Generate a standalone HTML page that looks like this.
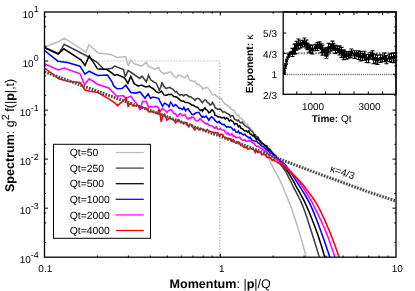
<!DOCTYPE html><html><head><meta charset="utf-8"><style>html,body{margin:0;padding:0;background:#fff;overflow:hidden}body{width:415px;height:291px;position:relative}</style></head><body><svg width="415" height="291" viewBox="0 0 415 291" style="position:absolute;left:0;top:0;font-family:'Liberation Sans',sans-serif;will-change:transform;text-rendering:geometricPrecision">
<rect width="415" height="291" fill="#fff"/>
<path d="M44.5,61 H219.7 V257.2" fill="none" stroke="#b0b0b0" stroke-width="1.2" stroke-dasharray="1.2,1.8"/>
<path d="M44.5,47.0 L58.0,42.0 L64.2,38.2 L81.0,48.8 L86.0,52.0 L89.0,44.5 L98.0,53.0 L107.0,54.0 L112.0,54.9 L117.0,57.4 L125.8,56.5 L128.2,66.1 L130.8,59.9 L133.9,63.6 L141.4,66.1 L146.4,62.4 L148.2,66.1 L150.0,67.0 L151.4,67.7 L152.8,68.3 L154.5,69.3 L155.6,69.1 L157.0,67.9 L158.9,67.7 L159.8,70.3 L161.4,72.2 L162.6,72.4 L163.9,74.0 L165.4,73.1 L166.8,73.5 L168.2,72.4 L170.0,72.1 L171.0,72.2 L172.4,74.5 L173.8,76.2 L175.2,76.8 L176.0,77.7 L176.6,77.5 L178.0,75.3 L180.0,75.2 L180.8,75.8 L182.2,76.3 L183.8,77.6 L185.0,77.8 L186.4,75.8 L187.5,75.2 L189.2,79.2 L190.0,80.2 L190.6,81.0 L192.0,80.3 L193.4,81.5 L195.0,81.2 L196.2,83.4 L197.6,84.6 L199.0,84.4 L200.4,85.9 L201.8,87.5 L202.5,89.1 L203.2,88.4 L204.6,88.5 L206.0,87.5 L207.5,87.5 L208.8,89.1 L210.2,91.0 L211.6,93.4 L212.5,94.6 L214.4,95.0 L215.0,94.5 L216.3,96.1 L217.6,96.9 L218.9,98.3 L220.2,98.6 L221.5,98.4 L222.8,101.4 L224.1,103.0 L225.4,104.2 L226.7,104.6 L228.0,106.3 L229.3,106.2 L230.6,109.0 L231.9,109.5 L233.2,109.9 L234.5,110.5 L235.8,113.9 L237.1,115.7 L238.4,114.8 L239.7,118.1 L241.0,118.5 L242.3,119.2 L243.6,120.8 L244.9,123.3 L246.2,124.8 L247.5,124.1 L248.8,127.1 L250.1,127.3 L251.4,130.7 L252.7,131.4 L254.0,134.4 L255.3,136.2 L256.6,136.7 L257.9,139.7 L259.2,140.1 L260.5,141.7 L261.8,145.2 L263.1,146.3 L264.4,149.1 L265.7,152.1 L267.0,155.3 L268.3,157.1 L269.6,159.6 L270.9,163.5 L272.2,165.1 L273.5,168.5 L274.8,170.9 L276.1,172.7 L277.4,175.3 L278.7,177.9 L280.0,180.7 L281.3,183.5 L282.6,186.4 L283.9,189.5 L285.2,192.8 L286.5,195.7 L287.8,198.9 L289.1,202.4 L290.4,205.5 L291.7,209.1 L293.0,213.1 L294.3,216.8 L295.6,220.8 L296.9,224.7 L298.2,229.0 L299.5,233.4 L300.0,234.9 L303.0,245.3 L306.0,256.1 L306.2,256.9" fill="none" stroke="#bdbdbd" stroke-width="1.55" stroke-linejoin="miter" stroke-miterlimit="3"/>
<path d="M44.5,47.5 L58.8,53.8 L64.2,44.2 L85.0,55.0 L97.5,62.5 L103.8,69.5 L112.0,68.2 L114.5,66.1 L123.5,69.6 L125.3,76.8 L128.2,70.5 L139.8,78.4 L142.0,76.2 L146.4,81.8 L148.6,75.2 L150.0,78.3 L150.8,80.0 L151.4,80.4 L152.8,81.1 L154.2,82.1 L155.8,82.9 L157.0,84.9 L158.4,87.9 L159.2,90.7 L161.2,85.8 L162.0,82.3 L162.6,83.6 L163.9,86.3 L166.0,88.6 L166.8,88.2 L168.2,87.7 L170.0,87.4 L171.0,88.4 L172.4,88.9 L173.8,90.1 L175.2,92.0 L176.6,91.5 L178.0,93.6 L180.0,95.2 L180.8,94.7 L182.2,94.6 L183.6,95.9 L185.0,94.8 L186.4,94.8 L187.5,95.4 L189.2,96.9 L190.6,96.5 L192.0,97.8 L193.4,98.7 L195.0,100.3 L196.2,98.9 L197.5,98.3 L199.0,98.7 L200.4,100.3 L201.8,102.2 L202.5,102.8 L203.2,101.7 L205.0,99.8 L206.0,100.2 L207.4,102.5 L208.8,103.2 L210.0,105.2 L211.6,104.1 L212.5,102.3 L214.4,105.5 L215.0,107.8 L216.3,108.2 L217.6,109.4 L218.9,109.0 L220.2,109.2 L221.5,110.3 L222.8,112.3 L224.1,111.6 L225.4,112.4 L226.7,113.3 L228.0,113.9 L229.3,114.6 L230.6,116.7 L231.9,115.5 L233.2,115.9 L234.5,119.1 L235.8,119.7 L237.1,120.7 L238.4,120.1 L239.7,122.2 L241.0,123.0 L242.3,122.1 L243.6,124.4 L244.9,125.7 L246.2,126.4 L247.5,127.2 L248.8,128.0 L250.1,129.7 L251.4,130.8 L252.7,131.7 L254.0,134.3 L255.3,134.8 L256.6,137.4 L257.9,136.8 L259.2,140.1 L260.5,140.8 L261.8,142.6 L263.1,143.8 L264.4,145.1 L265.7,145.6 L267.0,145.8 L268.3,148.6 L269.6,148.9 L270.9,150.7 L272.2,152.9 L273.5,154.3 L274.8,155.8 L276.1,158.2 L277.4,159.5 L278.7,161.0 L280.0,162.7 L281.3,165.3 L282.6,166.9 L283.9,169.2 L285.2,170.9 L286.5,173.0 L287.8,175.6 L289.1,178.3 L290.4,180.5 L291.7,183.5 L293.0,186.2 L294.3,188.6 L295.6,191.1 L296.9,193.3 L298.2,196.0 L299.5,198.8 L300.0,199.6 L303.0,206.6 L306.0,214.7 L309.0,223.9 L312.0,233.4 L315.0,243.0 L318.0,252.9 L319.2,256.9" fill="none" stroke="#404040" stroke-width="1.55" stroke-linejoin="miter" stroke-miterlimit="3"/>
<path d="M44.5,47.5 L58.0,54.0 L63.8,48.8 L81.2,60.0 L85.0,65.5 L89.2,55.8 L97.5,68.8 L107.0,69.5 L112.0,73.1 L114.5,75.3 L117.3,74.6 L124.5,77.8 L127.9,83.4 L130.8,76.5 L134.2,83.7 L138.2,86.2 L141.4,85.0 L145.8,86.9 L149.5,86.2 L150.0,86.6 L151.4,87.6 L152.8,88.5 L154.5,89.8 L155.6,91.3 L157.0,92.3 L158.9,92.8 L159.8,92.4 L161.4,91.1 L162.6,92.7 L163.9,94.9 L165.4,95.3 L166.8,95.2 L167.5,94.9 L168.2,94.3 L169.6,94.4 L171.2,94.2 L172.4,95.3 L173.8,96.6 L175.2,96.7 L176.6,97.0 L178.0,98.1 L180.0,99.9 L180.8,100.5 L182.2,101.3 L183.6,101.0 L185.0,102.3 L186.4,102.4 L187.5,102.4 L189.2,103.1 L190.6,104.0 L192.0,105.2 L193.4,105.3 L195.0,106.4 L196.2,107.0 L197.6,107.5 L199.0,109.0 L200.4,110.3 L201.8,109.9 L202.5,111.2 L203.2,110.0 L205.0,107.8 L206.0,109.7 L207.4,110.4 L208.8,112.8 L210.2,112.1 L211.6,110.1 L212.5,110.0 L214.4,112.6 L215.0,115.3 L216.3,115.5 L217.6,116.6 L218.9,116.9 L220.2,117.1 L221.5,117.8 L222.8,117.9 L224.1,117.2 L225.4,118.9 L226.7,117.9 L228.0,118.8 L229.3,121.1 L230.6,120.0 L231.9,120.9 L233.2,121.7 L234.5,124.6 L235.8,123.5 L237.1,123.9 L238.4,126.8 L239.7,125.7 L241.0,128.4 L242.3,128.7 L243.6,129.9 L244.9,131.0 L246.2,130.8 L247.5,132.2 L248.8,131.1 L250.1,134.0 L251.4,134.4 L252.7,135.9 L254.0,135.3 L255.3,138.0 L256.6,139.5 L257.9,138.5 L259.2,140.3 L260.5,142.0 L261.8,143.8 L263.1,143.7 L264.4,144.8 L265.7,146.1 L267.0,147.9 L268.3,149.3 L269.6,149.9 L270.9,151.1 L272.2,152.5 L273.5,153.7 L274.8,155.2 L276.1,156.2 L277.4,158.2 L278.7,160.3 L280.0,161.1 L281.3,163.1 L282.6,164.1 L283.9,166.4 L285.2,168.2 L286.5,169.9 L287.8,171.7 L289.1,173.7 L290.4,175.9 L291.7,178.2 L293.0,180.3 L294.3,182.6 L295.6,185.3 L296.9,187.7 L298.2,189.9 L299.5,192.2 L300.0,193.2 L303.0,198.7 L306.0,204.9 L309.0,211.8 L312.0,219.2 L315.0,226.9 L318.0,235.2 L321.0,244.5 L324.0,254.5 L324.8,256.9" fill="none" stroke="#000" stroke-width="1.55" stroke-linejoin="miter" stroke-miterlimit="3"/>
<path d="M44.5,50.5 L58.0,61.2 L67.5,62.5 L80.0,66.2 L85.0,74.2 L89.2,71.2 L97.5,75.5 L107.5,75.0 L112.0,81.9 L113.9,86.2 L117.0,88.8 L122.0,88.5 L125.8,85.2 L130.8,92.5 L135.8,93.1 L140.0,92.0 L145.0,98.2 L148.1,93.9 L150.6,98.3 L151.4,97.8 L153.1,97.1 L154.2,97.4 L155.6,97.6 L157.0,97.9 L158.8,98.6 L159.8,101.0 L161.2,103.6 L162.5,106.1 L164.4,103.1 L165.4,103.4 L166.9,104.7 L168.2,105.3 L169.0,107.4 L169.6,105.1 L170.6,102.1 L172.4,104.6 L173.1,106.0 L173.8,106.1 L175.6,104.5 L176.6,105.5 L178.1,107.2 L179.4,108.4 L180.6,108.2 L182.5,109.7 L183.8,107.4 L185.6,110.7 L186.4,109.6 L188.1,108.7 L189.2,110.8 L190.6,112.6 L191.9,114.3 L193.4,114.6 L195.0,113.5 L196.2,112.7 L197.6,112.4 L198.8,112.3 L200.4,114.9 L201.8,116.9 L202.5,117.3 L203.2,116.4 L204.6,117.3 L206.2,116.1 L207.4,117.8 L208.8,120.2 L210.2,118.0 L211.6,116.9 L212.5,117.3 L214.4,119.5 L215.0,120.4 L216.3,121.7 L217.6,122.6 L218.9,121.6 L220.2,123.0 L221.5,123.9 L222.8,124.6 L224.1,124.4 L225.4,125.9 L226.7,127.3 L228.0,126.4 L229.3,127.4 L230.6,127.1 L231.9,128.3 L233.2,130.1 L234.5,129.4 L235.8,132.0 L237.1,132.6 L238.4,130.9 L239.7,133.6 L241.0,132.7 L242.3,134.3 L243.6,134.8 L244.9,134.2 L246.2,135.9 L247.5,136.6 L248.8,137.8 L250.1,137.3 L251.4,139.4 L252.7,140.7 L254.0,140.7 L255.3,141.2 L256.6,141.0 L257.9,142.8 L259.2,143.4 L260.5,145.2 L261.8,146.1 L263.1,146.8 L264.4,147.1 L265.7,149.1 L267.0,150.1 L268.3,150.4 L269.6,152.7 L270.9,153.2 L272.2,153.3 L273.5,155.5 L274.8,155.3 L276.1,156.7 L277.4,158.2 L278.7,159.2 L280.0,160.2 L281.3,161.5 L282.6,162.5 L283.9,163.6 L285.2,164.8 L286.5,166.2 L287.8,168.3 L289.1,170.1 L290.4,171.9 L291.7,173.9 L293.0,175.8 L294.3,177.8 L295.6,179.9 L296.9,182.2 L298.2,184.0 L299.5,186.2 L300.0,186.9 L303.0,191.7 L306.0,196.5 L309.0,201.9 L312.0,208.4 L315.0,215.6 L318.0,223.5 L321.0,231.6 L324.0,240.1 L327.0,248.7 L329.8,256.9" fill="none" stroke="#0000ff" stroke-width="1.55" stroke-linejoin="miter" stroke-miterlimit="3"/>
<path d="M44.5,63.8 L58.0,70.0 L64.2,68.0 L80.0,73.8 L84.5,84.5 L89.2,78.8 L98.0,84.5 L108.8,88.0 L112.0,91.2 L117.0,96.2 L123.2,95.6 L125.8,98.1 L130.8,96.2 L133.9,100.6 L138.2,105.6 L140.0,110.1 L142.5,101.4 L146.2,101.4 L148.8,107.6 L150.0,107.0 L151.2,106.4 L152.8,106.7 L154.2,106.9 L155.6,106.4 L157.5,106.8 L158.4,108.2 L160.0,111.0 L161.2,110.3 L162.5,108.5 L164.0,109.9 L165.4,110.3 L166.9,112.5 L168.2,110.8 L169.6,110.4 L170.6,109.6 L172.4,111.1 L173.1,112.4 L173.8,113.6 L175.6,113.5 L176.6,115.9 L177.5,116.7 L180.0,113.6 L180.8,113.8 L182.5,115.8 L183.6,115.4 L185.0,114.6 L186.4,117.6 L188.1,119.1 L189.2,117.9 L190.6,118.5 L191.9,117.0 L193.8,117.6 L194.8,119.6 L196.2,120.8 L197.6,121.0 L199.0,119.8 L200.0,118.7 L201.8,120.5 L203.2,121.7 L205.0,123.2 L206.0,124.0 L207.4,123.4 L208.8,125.0 L210.0,125.6 L211.6,125.9 L213.0,126.7 L214.4,128.0 L215.0,128.3 L216.3,126.8 L217.6,129.2 L218.9,129.4 L220.2,128.4 L221.5,129.9 L222.8,130.1 L224.1,130.3 L225.4,132.2 L226.7,133.9 L228.0,132.8 L229.3,134.9 L230.6,134.9 L231.9,133.8 L233.2,136.3 L234.5,136.0 L235.8,137.4 L237.1,137.2 L238.4,137.7 L239.7,137.2 L241.0,139.0 L242.3,140.0 L243.6,140.4 L244.9,139.8 L246.2,141.3 L247.5,141.2 L248.8,140.7 L250.1,141.2 L251.4,141.9 L252.7,142.9 L254.0,143.5 L255.3,145.1 L256.6,146.3 L257.9,146.6 L259.2,147.1 L260.5,148.5 L261.8,148.6 L263.1,149.8 L264.4,151.3 L265.7,151.5 L267.0,151.9 L268.3,154.3 L269.6,154.9 L270.9,155.2 L272.2,156.2 L273.5,157.5 L274.8,158.7 L276.1,159.1 L277.4,159.7 L278.7,160.9 L280.0,162.6 L281.3,162.7 L282.6,164.0 L283.9,164.8 L285.2,166.0 L286.5,167.1 L287.8,168.6 L289.1,169.7 L290.4,171.0 L291.7,172.5 L293.0,174.0 L294.3,175.7 L295.6,177.1 L296.9,178.8 L298.2,180.7 L299.5,182.5 L300.0,183.3 L303.0,187.4 L306.0,192.0 L309.0,196.8 L312.0,202.0 L315.0,208.3 L318.0,214.3 L321.0,220.6 L324.0,227.3 L327.0,234.4 L330.0,242.6 L333.0,251.5 L334.8,256.9" fill="none" stroke="#ff00ff" stroke-width="1.55" stroke-linejoin="miter" stroke-miterlimit="3"/>
<path d="M44.5,68.0 L58.8,78.8 L67.5,81.2 L80.0,82.5 L85.0,90.0 L90.0,91.2 L98.0,92.5 L108.8,98.8 L114.4,102.5 L117.5,105.6 L126.2,98.1 L128.1,106.2 L130.6,103.1 L133.1,106.2 L137.5,105.0 L140.0,107.0 L146.2,108.2 L148.8,112.0 L150.0,111.8 L151.4,111.7 L152.5,111.3 L154.2,112.4 L155.6,112.5 L157.5,113.6 L158.4,111.0 L159.4,109.3 L161.2,121.8 L163.1,114.8 L164.4,114.0 L165.4,116.2 L166.9,120.3 L168.2,119.3 L169.4,117.5 L171.0,118.9 L171.9,119.0 L173.8,120.1 L175.6,122.8 L176.6,121.4 L178.0,119.6 L178.8,119.6 L179.4,121.0 L180.8,122.6 L182.5,122.3 L183.6,123.9 L185.0,122.5 L186.9,122.9 L187.8,125.6 L188.8,126.8 L190.6,124.4 L191.9,124.9 L193.8,128.9 L194.8,130.0 L196.2,127.7 L197.6,128.3 L199.0,129.9 L200.0,128.6 L201.8,129.1 L203.2,129.2 L204.6,130.4 L206.0,131.4 L207.4,129.6 L208.8,131.4 L210.0,131.2 L211.6,132.5 L213.0,132.2 L214.4,133.7 L215.0,132.3 L216.3,132.9 L217.6,132.8 L218.9,135.1 L220.2,134.6 L221.5,134.4 L222.8,134.7 L224.1,137.2 L225.4,137.5 L226.7,138.6 L228.0,138.2 L229.3,139.2 L230.6,138.8 L231.9,141.3 L233.2,139.5 L234.5,141.5 L235.8,143.0 L237.1,143.2 L238.4,141.8 L239.7,142.9 L241.0,145.6 L242.3,145.6 L243.6,147.1 L244.9,147.7 L246.2,146.9 L247.5,148.9 L248.8,148.9 L250.1,148.1 L251.4,148.9 L252.7,148.4 L254.0,150.1 L255.3,152.6 L256.6,150.4 L257.9,152.6 L259.2,151.8 L260.5,152.4 L261.8,154.7 L263.1,154.2 L264.4,154.4 L265.7,155.4 L267.0,157.3 L268.3,157.9 L269.6,157.2 L270.9,158.3 L272.2,160.5 L273.5,159.6 L274.8,160.9 L276.1,161.3 L277.4,162.6 L278.7,163.0 L280.0,164.0 L281.3,164.5 L282.6,165.1 L283.9,166.2 L285.2,167.2 L286.5,169.1 L287.8,169.6 L289.1,170.6 L290.4,172.5 L291.7,173.1 L293.0,174.7 L294.3,175.5 L295.6,176.9 L296.9,178.0 L298.2,179.6 L299.5,180.8 L300.0,181.3 L303.0,184.7 L306.0,188.7 L309.0,192.6 L312.0,196.7 L315.0,201.0 L318.0,206.0 L321.0,212.1 L324.0,218.4 L327.0,225.4 L330.0,232.4 L333.0,240.2 L336.0,248.3 L339.0,257.1" fill="none" stroke="#ff0000" stroke-width="1.55" stroke-linejoin="miter" stroke-miterlimit="3"/>
<path d="M44.5,71.8 L232,140.6 L280,159.2 L310,170.6 L346,183.7 L370,192.5 L396,201.1" fill="none" stroke="#505050" stroke-width="3" stroke-dasharray="1.8,1.15"/>
<text transform="translate(329.5,171.5) rotate(18.5)" font-size="10.2" fill="#000">κ=4/3</text>
<rect x="44.5" y="12.0" width="351.5" height="245.2" fill="none" stroke="#000" stroke-width="1.3"/>
<path d="M97.41,257.2 v-1.7 M97.41,12.0 v1.7 M128.35,257.2 v-1.7 M128.35,12.0 v1.7 M150.31,257.2 v-1.7 M150.31,12.0 v1.7 M167.34,257.2 v-1.7 M167.34,12.0 v1.7 M181.26,257.2 v-1.7 M181.26,12.0 v1.7 M193.03,257.2 v-1.7 M193.03,12.0 v1.7 M203.22,257.2 v-1.7 M203.22,12.0 v1.7 M212.21,257.2 v-1.7 M212.21,12.0 v1.7 M220.25,257.2 v-3.5 M220.25,12.0 v3.5 M273.16,257.2 v-1.7 M273.16,12.0 v1.7 M304.10,257.2 v-1.7 M304.10,12.0 v1.7 M326.06,257.2 v-1.7 M326.06,12.0 v1.7 M343.09,257.2 v-1.7 M343.09,12.0 v1.7 M357.01,257.2 v-1.7 M357.01,12.0 v1.7 M368.78,257.2 v-1.7 M368.78,12.0 v1.7 M378.97,257.2 v-1.7 M378.97,12.0 v1.7 M387.96,257.2 v-1.7 M387.96,12.0 v1.7 M44.5,242.44 h1.7 M396.0,242.44 h-1.7 M44.5,222.92 h1.7 M396.0,222.92 h-1.7 M44.5,212.91 h1.7 M396.0,212.91 h-1.7 M44.5,208.16 h3.5 M396.0,208.16 h-3.5 M44.5,193.40 h1.7 M396.0,193.40 h-1.7 M44.5,173.88 h1.7 M396.0,173.88 h-1.7 M44.5,163.87 h1.7 M396.0,163.87 h-1.7 M44.5,159.12 h3.5 M396.0,159.12 h-3.5 M44.5,144.36 h1.7 M396.0,144.36 h-1.7 M44.5,124.84 h1.7 M396.0,124.84 h-1.7 M44.5,114.83 h1.7 M396.0,114.83 h-1.7 M44.5,110.08 h3.5 M396.0,110.08 h-3.5 M44.5,95.32 h1.7 M396.0,95.32 h-1.7 M44.5,75.80 h1.7 M396.0,75.80 h-1.7 M44.5,65.79 h1.7 M396.0,65.79 h-1.7 M44.5,61.04 h3.5 M396.0,61.04 h-3.5 M44.5,46.28 h1.7 M396.0,46.28 h-1.7 M44.5,26.76 h1.7 M396.0,26.76 h-1.7 M44.5,16.75 h1.7 M396.0,16.75 h-1.7" stroke="#000" stroke-width="1" fill="none"/>
<text x="38.6" y="17.6" font-size="10" text-anchor="end">10<tspan font-size="8.8" dy="-5.2">1</tspan></text>
<text x="38.6" y="66.6" font-size="10" text-anchor="end">10<tspan font-size="8.8" dy="-5.2">0</tspan></text>
<text x="38.6" y="115.7" font-size="10" text-anchor="end">10<tspan font-size="8.8" dy="-5.2">-1</tspan></text>
<text x="38.6" y="164.7" font-size="10" text-anchor="end">10<tspan font-size="8.8" dy="-5.2">-2</tspan></text>
<text x="38.6" y="213.8" font-size="10" text-anchor="end">10<tspan font-size="8.8" dy="-5.2">-3</tspan></text>
<text x="38.6" y="262.8" font-size="10" text-anchor="end">10<tspan font-size="8.8" dy="-5.2">-4</tspan></text>
<text x="45.3" y="271.7" font-size="10" text-anchor="middle">0.1</text>
<text x="221.7" y="271.7" font-size="10" text-anchor="middle">1</text>
<text x="397.2" y="271.7" font-size="10" text-anchor="middle">10</text>
<text x="220.2" y="287.9" font-size="12.55" text-anchor="middle"><tspan font-weight="bold">Momentum</tspan>: |<tspan font-weight="bold">p</tspan>|/Q</text>
<text transform="translate(13.6,192.0) rotate(-90)" font-size="12.55"><tspan font-weight="bold">Spectrum</tspan>: g<tspan font-size="10.5" dy="-5">2</tspan><tspan dy="5" dx="2.6">f(|</tspan><tspan font-weight="bold">p</tspan>|,t)</text>
<rect x="53.5" y="144.3" width="97" height="94" fill="#fff" stroke="#000" stroke-width="1"/>
<text x="69.7" y="156.2" font-size="10.4">Qt=50</text>
<path d="M115.7,152.5 H143.8" stroke="#bdbdbd" stroke-width="1.25"/>
<text x="69.7" y="171.8" font-size="10.4">Qt=250</text>
<path d="M115.7,168.1 H143.8" stroke="#404040" stroke-width="1.25"/>
<text x="69.7" y="187.4" font-size="10.4">Qt=500</text>
<path d="M115.7,183.7 H143.8" stroke="#000" stroke-width="1.25"/>
<text x="69.7" y="203.0" font-size="10.4">Qt=1000</text>
<path d="M115.7,199.3 H143.8" stroke="#0000ff" stroke-width="1.25"/>
<text x="69.7" y="218.6" font-size="10.4">Qt=2000</text>
<path d="M115.7,214.9 H143.8" stroke="#ff00ff" stroke-width="1.25"/>
<text x="69.7" y="234.2" font-size="10.4">Qt=4000</text>
<path d="M115.7,230.5 H143.8" stroke="#ff0000" stroke-width="1.25"/>
<path d="M283.2,53.3 H396.0" stroke="#777" stroke-width="2" stroke-dasharray="1.7,1.2"/>
<path d="M283.2,74.5 H396.0" stroke="#4a4a4a" stroke-width="1.3" stroke-dasharray="0.8,1.1"/>
<path d="M284.5,72.3 V74.4 M283.0,72.3 h3.0 M283.0,74.4 h3.0 M284.5,70.6 V72.3 M283.0,70.6 h3.0 M283.0,72.3 h3.0 M284.5,67.9 V70.7 M283.0,67.9 h3.0 M283.0,70.7 h3.0 M285.5,65.6 V68.3 M284.0,65.6 h3.0 M284.0,68.3 h3.0 M285.5,63.9 V65.8 M284.0,63.9 h3.0 M284.0,65.8 h3.0 M286.5,60.9 V64.1 M285.0,60.9 h3.0 M285.0,64.1 h3.0 M286.5,59.2 V61.5 M285.0,59.2 h3.0 M285.0,61.5 h3.0 M287.5,57.0 V59.0 M286.0,57.0 h3.0 M286.0,59.0 h3.0 M288.5,54.4 V57.5 M287.0,54.4 h3.0 M287.0,57.5 h3.0 M289.5,53.0 V56.0 M288.0,53.0 h3.0 M288.0,56.0 h3.0 M290.5,51.7 V54.2 M289.0,51.7 h3.0 M289.0,54.2 h3.0 M292.5,48.4 V56.5 M290.5,48.4 h4.0 M290.5,56.5 h4.0 M294.5,44.3 V54.1 M292.5,44.3 h4.0 M292.5,54.1 h4.0 M295.5,43.8 V53.6 M293.5,43.8 h4.0 M293.5,53.6 h4.0 M296.5,41.2 V50.3 M294.5,41.2 h4.0 M294.5,50.3 h4.0 M298.5,39.0 V48.9 M296.5,39.0 h4.0 M296.5,48.9 h4.0 M300.5,40.8 V48.0 M298.5,40.8 h4.0 M298.5,48.0 h4.0 M302.5,40.3 V47.0 M300.5,40.3 h4.0 M300.5,47.0 h4.0 M304.5,38.0 V46.8 M302.5,38.0 h4.0 M302.5,46.8 h4.0 M306.5,40.0 V48.1 M304.5,40.0 h4.0 M304.5,48.1 h4.0 M307.5,43.4 V49.6 M305.5,43.4 h4.0 M305.5,49.6 h4.0 M309.5,44.9 V52.0 M307.5,44.9 h4.0 M307.5,52.0 h4.0 M310.5,45.5 V52.9 M308.5,45.5 h4.0 M308.5,52.9 h4.0 M312.5,45.0 V54.0 M310.5,45.0 h4.0 M310.5,54.0 h4.0 M315.5,44.3 V50.7 M313.5,44.3 h4.0 M313.5,50.7 h4.0 M317.5,42.8 V50.5 M315.5,42.8 h4.0 M315.5,50.5 h4.0 M319.5,41.9 V48.5 M317.5,41.9 h4.0 M317.5,48.5 h4.0 M321.5,43.8 V52.6 M319.5,43.8 h4.0 M319.5,52.6 h4.0 M322.5,45.2 V55.1 M320.5,45.2 h4.0 M320.5,55.1 h4.0 M324.5,47.8 V55.2 M322.5,47.8 h4.0 M322.5,55.2 h4.0 M325.5,48.0 V55.2 M323.5,48.0 h4.0 M323.5,55.2 h4.0 M326.5,50.2 V58.3 M324.5,50.2 h4.0 M324.5,58.3 h4.0 M326.5,48.7 V56.1 M324.5,48.7 h4.0 M324.5,56.1 h4.0 M327.5,47.5 V54.7 M325.5,47.5 h4.0 M325.5,54.7 h4.0 M328.5,43.3 V52.9 M326.5,43.3 h4.0 M326.5,52.9 h4.0 M330.5,44.1 V51.3 M328.5,44.1 h4.0 M328.5,51.3 h4.0 M332.5,41.1 V50.3 M330.5,41.1 h4.0 M330.5,50.3 h4.0 M333.5,43.2 V49.7 M331.5,43.2 h4.0 M331.5,49.7 h4.0 M335.5,45.2 V53.4 M333.5,45.2 h4.0 M333.5,53.4 h4.0 M337.5,46.3 V52.5 M335.5,46.3 h4.0 M335.5,52.5 h4.0 M339.5,45.9 V55.0 M337.5,45.9 h4.0 M337.5,55.0 h4.0 M341.5,47.4 V57.4 M339.5,47.4 h4.0 M339.5,57.4 h4.0 M343.5,49.9 V59.8 M341.5,49.9 h4.0 M341.5,59.8 h4.0 M344.5,51.0 V57.7 M342.5,51.0 h4.0 M342.5,57.7 h4.0 M346.5,51.6 V59.3 M344.5,51.6 h4.0 M344.5,59.3 h4.0 M348.5,52.0 V58.2 M346.5,52.0 h4.0 M346.5,58.2 h4.0 M350.5,51.2 V57.6 M348.5,51.2 h4.0 M348.5,57.6 h4.0 M351.5,49.0 V56.0 M349.5,49.0 h4.0 M349.5,56.0 h4.0 M354.5,50.8 V58.5 M352.5,50.8 h4.0 M352.5,58.5 h4.0 M356.5,50.8 V57.0 M354.5,50.8 h4.0 M354.5,57.0 h4.0 M358.5,50.9 V59.4 M356.5,50.9 h4.0 M356.5,59.4 h4.0 M360.5,51.4 V61.0 M358.5,51.4 h4.0 M358.5,61.0 h4.0 M362.5,53.4 V60.4 M360.5,53.4 h4.0 M360.5,60.4 h4.0 M364.5,51.2 V60.2 M362.5,51.2 h4.0 M362.5,60.2 h4.0 M366.5,54.5 V62.5 M364.5,54.5 h4.0 M364.5,62.5 h4.0 M368.5,54.5 V62.7 M366.5,54.5 h4.0 M366.5,62.7 h4.0 M370.5,52.2 V58.8 M368.5,52.2 h4.0 M368.5,58.8 h4.0 M372.5,50.7 V59.3 M370.5,50.7 h4.0 M370.5,59.3 h4.0 M373.5,54.1 V63.7 M371.5,54.1 h4.0 M371.5,63.7 h4.0 M375.5,54.3 V63.0 M373.5,54.3 h4.0 M373.5,63.0 h4.0 M377.5,55.2 V64.4 M375.5,55.2 h4.0 M375.5,64.4 h4.0 M380.5,54.9 V62.5 M378.5,54.9 h4.0 M378.5,62.5 h4.0 M382.5,55.0 V61.7 M380.5,55.0 h4.0 M380.5,61.7 h4.0 M384.5,53.0 V61.8 M382.5,53.0 h4.0 M382.5,61.8 h4.0 M386.5,55.6 V63.8 M384.5,55.6 h4.0 M384.5,63.8 h4.0 M389.5,54.2 V61.6 M387.5,54.2 h4.0 M387.5,61.6 h4.0 M391.5,53.3 V62.5 M389.5,53.3 h4.0 M389.5,62.5 h4.0 M393.5,52.7 V62.6 M391.5,52.7 h4.0 M391.5,62.6 h4.0 M395.5,53.0 V60.2 M393.5,53.0 h4.0 M393.5,60.2 h4.0" stroke="#000" stroke-width="1.1" fill="none"/>
<path d="M283.5,72.3 h2.0 v2.0 h-2.0 z M283.5,70.5 h2.0 v2.0 h-2.0 z M283.5,68.3 h2.0 v2.0 h-2.0 z M284.5,65.9 h2.0 v2.0 h-2.0 z M284.5,63.9 h2.0 v2.0 h-2.0 z M285.5,61.5 h2.0 v2.0 h-2.0 z M285.5,59.4 h2.0 v2.0 h-2.0 z M286.5,57.0 h2.0 v2.0 h-2.0 z M287.5,55.0 h2.0 v2.0 h-2.0 z M288.5,53.5 h2.0 v2.0 h-2.0 z M289.5,52.0 h2.0 v2.0 h-2.0 z M290.8,50.7 h3.4 v3.4 h-3.4 z M292.8,47.5 h3.4 v3.4 h-3.4 z M293.8,47.0 h3.4 v3.4 h-3.4 z M294.8,44.0 h3.4 v3.4 h-3.4 z M296.8,42.3 h3.4 v3.4 h-3.4 z M298.8,42.7 h3.4 v3.4 h-3.4 z M300.8,41.9 h3.4 v3.4 h-3.4 z M302.8,40.7 h3.4 v3.4 h-3.4 z M304.8,42.4 h3.4 v3.4 h-3.4 z M305.8,44.8 h3.4 v3.4 h-3.4 z M307.8,46.7 h3.4 v3.4 h-3.4 z M308.8,47.5 h3.4 v3.4 h-3.4 z M310.8,47.8 h3.4 v3.4 h-3.4 z M313.8,45.8 h3.4 v3.4 h-3.4 z M315.8,45.0 h3.4 v3.4 h-3.4 z M317.8,43.5 h3.4 v3.4 h-3.4 z M319.8,46.5 h3.4 v3.4 h-3.4 z M320.8,48.4 h3.4 v3.4 h-3.4 z M322.8,49.8 h3.4 v3.4 h-3.4 z M323.8,49.9 h3.4 v3.4 h-3.4 z M324.8,52.6 h3.4 v3.4 h-3.4 z M324.8,50.7 h3.4 v3.4 h-3.4 z M325.8,49.4 h3.4 v3.4 h-3.4 z M326.8,46.4 h3.4 v3.4 h-3.4 z M328.8,46.0 h3.4 v3.4 h-3.4 z M330.8,44.0 h3.4 v3.4 h-3.4 z M331.8,44.8 h3.4 v3.4 h-3.4 z M333.8,47.6 h3.4 v3.4 h-3.4 z M335.8,47.7 h3.4 v3.4 h-3.4 z M337.8,48.8 h3.4 v3.4 h-3.4 z M339.8,50.7 h3.4 v3.4 h-3.4 z M341.8,53.2 h3.4 v3.4 h-3.4 z M342.8,52.7 h3.4 v3.4 h-3.4 z M344.8,53.7 h3.4 v3.4 h-3.4 z M346.8,53.4 h3.4 v3.4 h-3.4 z M348.8,52.7 h3.4 v3.4 h-3.4 z M349.8,50.8 h3.4 v3.4 h-3.4 z M352.8,52.9 h3.4 v3.4 h-3.4 z M354.8,52.2 h3.4 v3.4 h-3.4 z M356.8,53.4 h3.4 v3.4 h-3.4 z M358.8,54.5 h3.4 v3.4 h-3.4 z M360.8,55.2 h3.4 v3.4 h-3.4 z M362.8,54.0 h3.4 v3.4 h-3.4 z M364.8,56.8 h3.4 v3.4 h-3.4 z M366.8,56.9 h3.4 v3.4 h-3.4 z M368.8,53.8 h3.4 v3.4 h-3.4 z M370.8,53.3 h3.4 v3.4 h-3.4 z M371.8,57.2 h3.4 v3.4 h-3.4 z M373.8,57.0 h3.4 v3.4 h-3.4 z M375.8,58.1 h3.4 v3.4 h-3.4 z M378.8,57.0 h3.4 v3.4 h-3.4 z M380.8,56.7 h3.4 v3.4 h-3.4 z M382.8,55.7 h3.4 v3.4 h-3.4 z M384.8,58.0 h3.4 v3.4 h-3.4 z M387.8,56.2 h3.4 v3.4 h-3.4 z M389.8,56.2 h3.4 v3.4 h-3.4 z M391.8,55.9 h3.4 v3.4 h-3.4 z M393.8,54.9 h3.4 v3.4 h-3.4 z" fill="#000" stroke="none"/>
<rect x="283.2" y="12.0" width="112.8" height="82.3" fill="none" stroke="#000" stroke-width="1.3"/>
<path d="M296.8,94.3 v-3 M296.8,12.0 v3 M311.1,94.3 v-3 M311.1,12.0 v3 M325.4,94.3 v-3 M325.4,12.0 v3 M339.7,94.3 v-3 M339.7,12.0 v3 M354.0,94.3 v-3 M354.0,12.0 v3 M368.3,94.3 v-3 M368.3,12.0 v3 M382.6,94.3 v-3 M382.6,12.0 v3 M283.2,33.0 h3 M396.0,33.0 h-3 M283.2,53.3 h3 M396.0,53.3 h-3 M283.2,74.3 h3 M396.0,74.3 h-3" stroke="#000" stroke-width="1" fill="none"/>
<text x="277" y="36.5" font-size="10" text-anchor="end">5/3</text>
<text x="277" y="58.4" font-size="10" text-anchor="end">4/3</text>
<text x="277" y="78.2" font-size="10" text-anchor="end">1</text>
<text x="277" y="99.0" font-size="10" text-anchor="end">2/3</text>
<text x="313" y="109.7" font-size="10" text-anchor="middle">1000</text>
<text x="369.5" y="109.7" font-size="10" text-anchor="middle">3000</text>
<text x="331.6" y="121.6" font-size="10" text-anchor="middle"><tspan font-weight="bold">Time:</tspan> Qt</text>
<text transform="translate(252.6,64) rotate(-90)" font-size="10.35" text-anchor="middle"><tspan font-weight="bold">Exponent:</tspan> κ</text>
</svg></body></html>
